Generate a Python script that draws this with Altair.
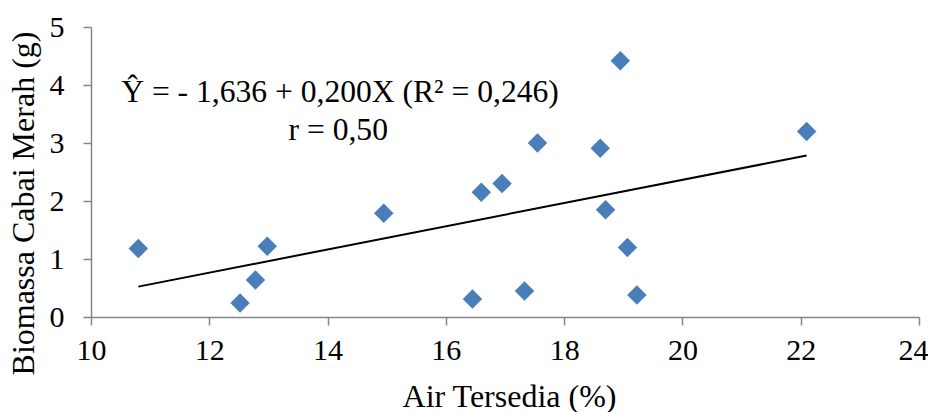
import altair as alt
import pandas as pd

# Data
air_tersedia = [10.8, 12.52, 12.78, 12.98, 14.95, 16.45, 16.6, 16.95, 17.33, 17.55,
                18.61, 18.7, 18.95, 19.07, 19.23, 22.1]
biomassa = [1.18, 0.24, 0.64, 1.22, 1.79, 0.31, 2.15, 2.3, 0.45, 3.0,
            2.91, 1.85, 4.42, 1.2, 0.38, 3.2]

intercept = -1.636
slope = 0.200
trend_x = [min(air_tersedia), max(air_tersedia)]
trend_y = [intercept + slope * v for v in trend_x]

eq_lines = ["Ŷ = - 1,636 + 0,200X (R² = 0,246)", "r = 0,50"]
eq_x = [14.21, 14.18]
eq_y = [3.86, 3.21]

x_ticks = [10, 12, 14, 16, 18, 20, 22, 24]
y_ticks = [0, 1, 2, 3, 4, 5]

pts = pd.DataFrame({"x": air_tersedia, "y": biomassa})
trend = pd.DataFrame({"x": trend_x, "y": trend_y})
eq = pd.DataFrame({"x": eq_x, "y": eq_y, "t": eq_lines})

FONT = "Liberation Serif"
AX_COLOR = "#868686"

xs = alt.Scale(domain=[10, 24], nice=False, zero=False)
ys = alt.Scale(domain=[0, 5], nice=False, zero=True)

common = dict(
    grid=False, format="d", tickSize=8, labelFlush=False,
    domainColor=AX_COLOR, tickColor=AX_COLOR, domainWidth=1.5, tickWidth=1.5,
    labelFont=FONT, labelFontSize=30, labelColor="black",
    titleFont=FONT, titleFontSize=32, titleFontWeight="normal", titleColor="black",
)

x_axis = alt.Axis(
    title="Air Tersedia (%)", values=x_ticks, labelPadding=10,
    labelOffset={"condition": {"test": "datum.value == 24", "value": -6}, "value": 0},
    titleX=418, titleY=89, titleBaseline="alphabetic",
    titleAnchor="start", titleAlign="center", **common,
)
y_axis = alt.Axis(
    title="Biomassa Cabai Merah (g)", values=y_ticks, labelPadding=19,
    titleX=-58, titleY=176, titleBaseline="alphabetic",
    titleAnchor="start", titleAlign="center", titleAngle=-90, **common,
)

X = alt.X("x:Q", scale=xs, axis=x_axis)
Y = alt.Y("y:Q", scale=ys, axis=y_axis)

points = alt.Chart(pts).mark_point(
    shape="diamond", filled=True, size=380, color="#4a7ebb", opacity=1
).encode(x=X, y=Y)

line = alt.Chart(trend).mark_line(color="black", strokeWidth=2).encode(x=X, y=Y)

text = alt.Chart(eq).mark_text(
    font=FONT, fontSize=31.6, color="black", align="center", baseline="middle"
).encode(x=X, y=Y, text="t:N")

chart = alt.layer(line, points, text).properties(
    width=828, height=290,
    autosize=alt.AutoSizeParams(type="none"),
    padding={"left": 83, "top": 19, "right": 9, "bottom": 95},
    background="white",
).configure_axis(
    labelFont=FONT, titleFont=FONT,
).configure_view(stroke=None)

chart.save("out.html", embed_options={"renderer": "svg", "actions": False})
